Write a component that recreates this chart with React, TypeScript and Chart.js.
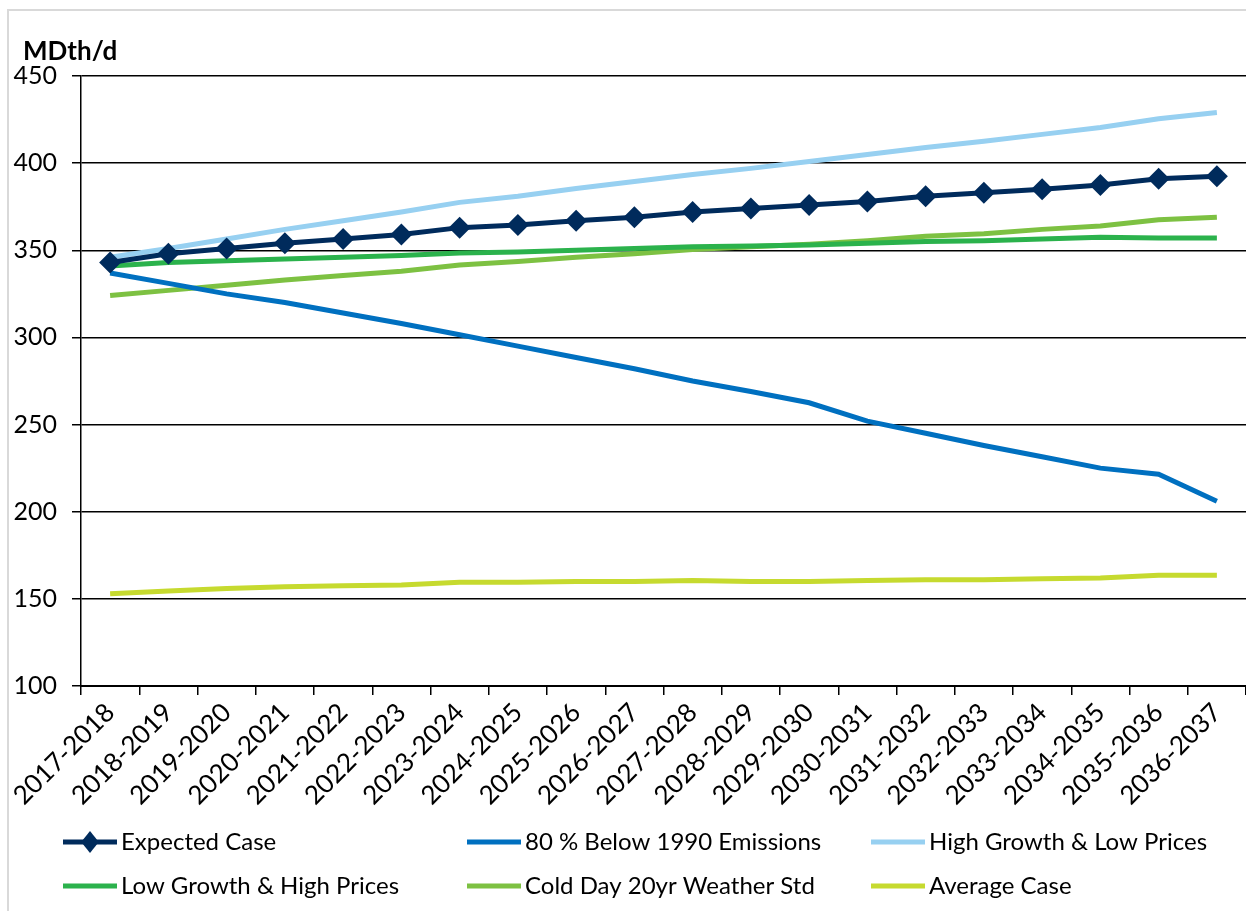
import React, { useEffect, useRef } from "react";
import { Chart, registerables } from "chart.js";

Chart.register(...registerables);

const categories = [
  "2017-2018", "2018-2019", "2019-2020", "2020-2021", "2021-2022",
  "2022-2023", "2023-2024", "2024-2025", "2025-2026", "2026-2027",
  "2027-2028", "2028-2029", "2029-2030", "2030-2031", "2031-2032",
  "2032-2033", "2033-2034", "2034-2035", "2035-2036", "2036-2037",
];

const expectedCase = [343, 348, 351, 354, 356.5, 359, 363, 364.5, 367, 369, 372, 374, 376, 378, 381, 383, 385, 387.5, 391, 392.5];
const below1990 = [337, 331, 325, 320, 314, 308, 301.5, 295, 288.5, 282, 275, 269, 262.5, 252, 245, 238, 231.5, 225, 221.5, 206];
const highGrowth = [346, 351, 356.5, 362, 367, 372, 377.5, 381, 385.5, 389.5, 393.5, 397, 401, 405, 409, 412.5, 416.5, 420.5, 425.5, 429];
const lowGrowth = [341, 343, 344, 345, 346, 347, 348.5, 349, 350, 351, 352, 352.5, 353, 354, 355, 355.5, 356.5, 357.5, 357, 357];
const coldDay = [324, 327, 330, 333, 335.5, 338, 341.5, 343.5, 346, 348, 350.5, 352, 353.5, 355.5, 358, 359.5, 362, 364, 367.5, 369];
const averageCase = [153, 154.5, 156, 157, 157.5, 158, 159.5, 159.5, 160, 160, 160.5, 160, 160, 160.5, 161, 161, 161.5, 162, 163.5, 163.5];

const seriesNames = [
  "Expected Case",
  "80 % Below 1990 Emissions",
  "High Growth & Low Prices",
  "Low Growth & High Prices",
  "Cold Day 20yr Weather Std",
  "Average Case",
];
const seriesColors = ["#002B5C", "#0070C0", "#97D0F1", "#2BB24C", "#7DC142", "#C6DA2F"];

const yTicks = [100, 150, 200, 250, 300, 350, 400, 450];
const yTitle = "MDth/d";

const FONT = "Lato, 'Open Sans', sans-serif";

const overlayPlugin = {
  id: "overlay",
  beforeDraw(chart: any) {
    const ctx = chart.ctx;
    ctx.save();
    ctx.strokeStyle = "#D9D9D9";
    ctx.lineWidth = 2;
    ctx.beginPath();
    ctx.moveTo(8, 911);
    ctx.lineTo(8, 10);
    ctx.lineTo(1246, 10);
    ctx.stroke();
    ctx.restore();
  },
  afterDraw(chart: any) {
    const ctx = chart.ctx;
    ctx.save();
    ctx.fillStyle = "#000";
    ctx.font = `bold 26px ${FONT}`;
    ctx.textBaseline = "middle";
    ctx.textAlign = "left";
    ctx.fillText(yTitle, 23, 52);

    const colX = [63, 467, 871];
    const rowY = [842, 886];
    ctx.font = `24px ${FONT}`;
    chart.data.datasets.forEach((ds: any, i: number) => {
      const x = colX[i % 3];
      const y = rowY[Math.floor(i / 3)];
      ctx.strokeStyle = ds.borderColor;
      ctx.lineWidth = 5;
      ctx.lineCap = "butt";
      ctx.beginPath();
      ctx.moveTo(x, y);
      ctx.lineTo(x + 54, y);
      ctx.stroke();
      if (ds.pointRadius > 0) {
        const cx = x + 27;
        const r = 11;
        ctx.fillStyle = ds.borderColor;
        ctx.beginPath();
        ctx.moveTo(cx - r * 0.8, y);
        ctx.lineTo(cx, y - r);
        ctx.lineTo(cx + r * 0.8, y);
        ctx.lineTo(cx, y + r);
        ctx.closePath();
        ctx.fill();
      }
      ctx.fillStyle = "#000";
      ctx.fillText(ds.label, x + 58, y);
    });
    ctx.restore();
  },
};

export default function App() {
  const ref = useRef<HTMLCanvasElement>(null);
  useEffect(() => {
    document.body.style.margin = "0";
    const values = [expectedCase, below1990, highGrowth, lowGrowth, coldDay, averageCase];
    const datasets = values.map((data, i) => ({
      label: seriesNames[i],
      data,
      borderColor: seriesColors[i],
      backgroundColor: seriesColors[i],
      borderWidth: 5,
      pointRadius: i === 0 ? 11 : 0,
      pointHoverRadius: i === 0 ? 11 : 0,
      pointStyle: "rectRot",
      pointBorderWidth: 0,
      tension: 0,
      fill: false,
      order: i,
    }));
    const chart = new Chart(ref.current!, {
      type: "line",
      data: { labels: categories, datasets },
      options: {
        responsive: false,
        animation: false,
        layout: { autoPadding: false, padding: { top: 76, left: 0, right: 0, bottom: 0 } },
        plugins: { legend: { display: false }, tooltip: { enabled: false } },
        scales: {
          x: {
            type: "category",
            offset: true,
            grid: { display: true, drawOnChartArea: false, drawTicks: true, tickLength: 9, color: "#000", lineWidth: 1.5, offset: true },
            border: { display: true, color: "#000", width: 2 },
            ticks: { autoSkip: false, maxRotation: 45, minRotation: 45, color: "#000", font: { family: FONT, size: 26 }, padding: 2 },
            afterFit: (s: any) => { s.height = 225; s.paddingLeft = 0; s.paddingRight = 0; },
          },
          y: {
            min: 100,
            max: 450,
            afterBuildTicks: (s: any) => { s.ticks = yTicks.map((v) => ({ value: v })); },
            grid: { color: "#000", lineWidth: 1.5, tickLength: 9, drawTicks: true },
            border: { display: true, color: "#000", width: 1.5 },
            ticks: { color: "#000", font: { family: FONT, size: 25 }, padding: 15 },
            afterFit: (s: any) => { s.width = 81; },
          },
        },
      },
      plugins: [overlayPlugin],
    });
    return () => chart.destroy();
  }, []);
  return <canvas ref={ref} width={1246} height={911} style={{ display: "block" }} />;
}
